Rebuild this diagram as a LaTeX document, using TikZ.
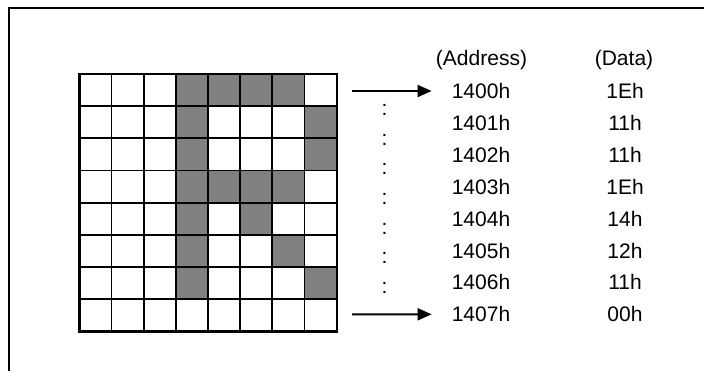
\documentclass[tikz,border=0pt]{standalone}
\usepackage{fontspec}
\setmainfont{Liberation Sans}
\usetikzlibrary{arrows.meta}
\definecolor{cellgray}{HTML}{808080}
\begin{document}
\begin{tikzpicture}[x=1pt,y=-1pt,
  txt/.style={inner sep=0pt, font=\fontsize{21pt}{25pt}\selectfont},
  lbl/.style={txt, text height=15pt, text depth=0pt},
  hdr/.style={txt, anchor=base},
  arr/.style={-{Triangle[length=14pt,width=12pt]}, line width=1.9pt, shorten >=20pt},
  gridline/.style={line width=1.8pt},
  gridouter/.style={line width=2.4pt},
  frameline/.style={line width=2.4pt}]
\useasboundingbox (0,0) rectangle (704,370);
% frame
\coordinate (ftl) at (8.7,8);
\coordinate (ftr) at (706,8);
\coordinate (fbl) at (8.7,372);
\draw[frameline] (fbl) -- (ftl) -- (ftr);
% grid
\def\cx{79.3}\def\cy{74}\def\cs{32.175}
\foreach \r/\c in {0/3,0/4,0/5,0/6,1/3,1/7,2/3,2/7,3/3,3/4,3/5,3/6,4/3,4/5,5/3,5/6,6/3,6/7}
  \fill[cellgray] (\cx+\c*\cs,\cy+\r*\cs) rectangle ++(\cs,\cs);
\foreach \i in {1,...,7} {
  \draw[gridline] (\cx+\i*\cs,\cy) -- ++(0,8*\cs);
  \draw[gridline] (\cx,\cy+\i*\cs) -- ++(8*\cs,0);
}
\draw[gridouter] (\cx,\cy) rectangle ++(8*\cs,8*\cs);
% headers
\node[hdr] (ha) at (481.5,65) {(Address)};
\node[hdr] (hd) at (624,65) {(Data)};
% rows
\foreach \i/\a/\d in {0/1400h/1Eh,1/1401h/11h,2/1402h/11h,3/1403h/1Eh,4/1404h/14h,5/1405h/12h,6/1406h/11h,7/1407h/00h} {
  \node[lbl] (a\i) at (481,91+\i*31.9) {\a};
  \node[lbl] (d\i) at (625,91+\i*31.9) {\d};
}
% arrows
\coordinate (s0) at (352,91);
\coordinate (s7) at (352,314.3);
\draw[arr] (s0) -- (a0.west);
\draw[arr] (s7) -- (a7.west);
% colons
\foreach \y [count=\k] in {115,145,174,204,234,263,293}
  \node[hdr] (c\k) at (384.5,\y) {:};
\end{tikzpicture}
\end{document}
